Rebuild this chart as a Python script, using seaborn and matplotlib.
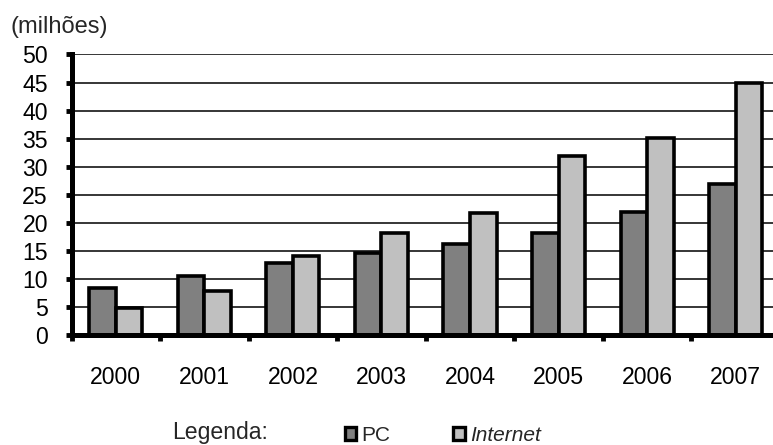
import matplotlib
matplotlib.use("Agg")
import matplotlib.pyplot as plt
import seaborn as sns
import pandas as pd
from matplotlib.patches import Patch
from matplotlib.ticker import FixedLocator

years = ["2000", "2001", "2002", "2003", "2004", "2005", "2006", "2007"]
pc = [8.3, 10.6, 12.9, 14.6, 16.2, 18.2, 21.9, 26.9]
internet = [4.9, 7.9, 14.1, 18.1, 21.8, 31.9, 35.2, 44.9]
series = ["PC", "Internet"]
colors = ["#808080", "#c0c0c0"]
yticks = [0, 5, 10, 15, 20, 25, 30, 35, 40, 45, 50]

df = pd.DataFrame({
    "ano": years * 2,
    "valor": pc + internet,
    "serie": [series[0]] * len(years) + [series[1]] * len(years),
})

sns.set_theme(style="white")
plt.rcParams["font.family"] = ["Liberation Sans", "DejaVu Sans"]

fig = plt.figure(figsize=(7.73, 4.45), dpi=100)
ax = fig.add_axes([71.5 / 773, 110 / 445, 708.5 / 773, 280.5 / 445])

sns.barplot(data=df, x="ano", y="valor", hue="serie", hue_order=series,
            palette=dict(zip(series, colors)), width=0.6, gap=0,
            edgecolor="black", linewidth=2.6, saturation=1, legend=False, ax=ax)

ax.set_ylim(0, 50)
ax.set_xlim(-0.5, 7.5)
ax.set_yticks(yticks)
ax.set_yticklabels([str(v) for v in yticks])
ax.set_axisbelow(True)
ax.yaxis.grid(True, color="black", linewidth=1.1)
ax.xaxis.grid(False)
ax.set_xlabel("")
ax.set_ylabel("")

for s in ["top", "right"]:
    ax.spines[s].set_visible(False)
for s in ["left", "bottom"]:
    ax.spines[s].set_color("black")
    ax.spines[s].set_linewidth(3.6)

ax.tick_params(axis="y", which="major", left=True, length=4, width=3.5,
               color="black", labelsize=16.6, pad=13, labelcolor="black")
ax.tick_params(axis="x", which="major", bottom=False, length=0,
               labelsize=16.6, pad=22, labelcolor="black")
ax.xaxis.set_minor_locator(FixedLocator([i - 0.5 for i in range(len(years) + 1)]))
ax.tick_params(axis="x", which="minor", bottom=True, length=4, width=3.5,
               color="black", direction="out")

fig.text(10 / 773, 1 - 33 / 445, "(milhões)", fontsize=17, ha="left", va="baseline")
fig.text(172 / 773, 6 / 445, "Legenda:", fontsize=16.6, ha="left", va="baseline")

handles = [Patch(facecolor=c, edgecolor="black", linewidth=2.4) for c in colors]
leg = fig.legend(handles, series, loc="lower left",
                 bbox_to_anchor=(345 / 773, 0 / 445), ncol=2, frameon=False,
                 fontsize=15, handlelength=0.55, handleheight=0.55,
                 handletextpad=0.25, columnspacing=3.0, borderpad=0,
                 borderaxespad=0)
leg.get_texts()[1].set_fontstyle("italic")

fig.savefig("out.png", dpi=100)
